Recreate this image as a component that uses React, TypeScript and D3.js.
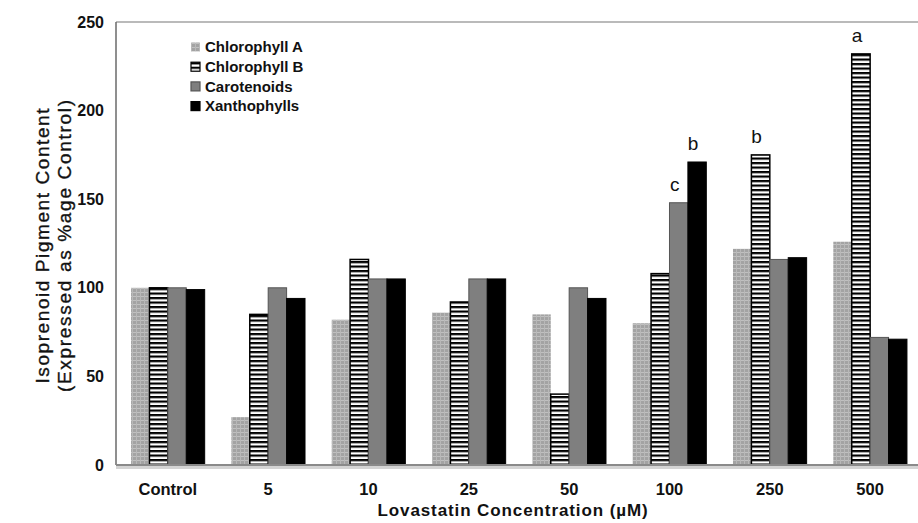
import React from 'react';
import * as d3 from 'd3';

const categories = ['Control', '5', '10', '25', '50', '100', '250', '500'];
const seriesNames = ['Chlorophyll A', 'Chlorophyll B', 'Carotenoids', 'Xanthophylls'];
const chlorophyllA = [100, 27, 82, 86, 85, 80, 122, 126];
const chlorophyllB = [100, 85, 116, 92, 40, 108, 175, 232];
const carotenoids = [100, 100, 105, 105, 100, 148, 116, 72];
const xanthophylls = [99, 94, 105, 105, 94, 171, 117, 71];
const yTicks = [0, 50, 100, 150, 200, 250];

// significance letters: category, series index, letter
const sigCategories = ['100', '100', '250', '500'];
const sigSeries = [2, 3, 1, 1];
const sigLetters = ['c', 'b', 'b', 'a'];

const WIDTH = 918;
const HEIGHT = 523;
const FONT = '"Liberation Sans", Arial, Helvetica, sans-serif';

const allSeries = [chlorophyllA, chlorophyllB, carotenoids, xanthophylls];
const fills = ['url(#patA)', 'url(#patB)', '#7f7f7f', '#000'];
const strokes = ['none', '#000', '#555', '#000'];
const strokeWidths = [0, 1.5, 1, 1];

export default function App() {
  const x = d3.scaleBand<string>()
    .domain(categories)
    .range([117, 921])
    .paddingInner(0.266)
    .paddingOuter(0.14);

  const xs = d3.scaleBand<number>()
    .domain(d3.range(seriesNames.length))
    .range([0, x.bandwidth()]);

  const y = d3.scaleLinear().domain([0, 250]).range([465, 22]);

  const left = 116;
  const bottom = y(0);
  const top = y(250);

  const legendX = 191;
  const legendY = 47;
  const legendStep = 19.7;

  return (
    <svg width={WIDTH} height={HEIGHT} style={{ position: 'absolute', left: 0, top: 0, background: '#fff' }}
      fontFamily={FONT}>
      <defs>
        <pattern id="patA" patternUnits="userSpaceOnUse" width={4} height={4}>
          <rect width={4} height={4} fill="#a3a3a3" />
          <rect x={0} y={0} width={4} height={1} fill="#c0c0c0" />
          <rect x={0} y={0} width={1} height={4} fill="#b8b8b8" />
        </pattern>
        <pattern id="patB" patternUnits="userSpaceOnUse" width={4.5} height={4.5}>
          <rect width={4.5} height={4.5} fill="#fff" />
          <rect x={0} y={0} width={4.5} height={2.2} fill="#000" />
        </pattern>
      </defs>

      {/* plot frame */}
      <line x1={left} x2={WIDTH} y1={top} y2={top} stroke="#777" strokeWidth={1.2} />
      <line x1={left} x2={left} y1={top} y2={bottom} stroke="#6a6a6a" strokeWidth={1.5} />

      {/* bars */}
      {allSeries.map((vals, s) => (
        <g key={seriesNames[s]}>
          {vals.map((v, i) => (
            <rect key={categories[i]}
              x={(x(categories[i]) as number) + (xs(s) as number)}
              y={y(v)}
              width={xs.bandwidth()}
              height={bottom - y(v)}
              fill={fills[s]}
              stroke={strokes[s]}
              strokeWidth={strokeWidths[s]} />
          ))}
        </g>
      ))}

      {/* x axis with shadow */}
      <line x1={left} x2={WIDTH} y1={bottom + 2.5} y2={bottom + 2.5} stroke="#d4d4d4" strokeWidth={3} />
      <line x1={left} x2={WIDTH} y1={bottom} y2={bottom} stroke="#8a8a8a" strokeWidth={2} />

      {/* y tick labels */}
      {yTicks.map(t => (
        <text key={t} x={104} y={y(t)} dy="0.35em" textAnchor="end"
          fontSize={16} fontWeight="bold" fill="#111">{t}</text>
      ))}

      {/* x tick labels */}
      {categories.map(c => (
        <text key={c} x={(x(c) as number) + x.bandwidth() / 2} y={489} dy="0.35em"
          textAnchor="middle" fontSize={16.5} fontWeight="bold" fill="#111">{c}</text>
      ))}

      {/* axis titles */}
      <text x={513} y={510} dy="0.35em" textAnchor="middle" fontSize={17} fontWeight="bold"
        fill="#111" letterSpacing={0.9}>Lovastatin Concentration (µM)</text>
      <g transform="translate(42,246) rotate(-90)">
        <text x={0} y={0} dy="0.35em" textAnchor="middle" fontSize={19} fill="#111"
          stroke="#111" strokeWidth={0.35}
          textLength={275} lengthAdjust="spacing">Isoprenoid Pigment Content</text>
        <text x={0} y={22} dy="0.35em" textAnchor="middle" fontSize={19} fill="#111"
          stroke="#111" strokeWidth={0.35}
          textLength={292} lengthAdjust="spacing">(Expressed as %age Control)</text>
      </g>

      {/* significance letters */}
      {sigLetters.map((l, k) => {
        const i = categories.indexOf(sigCategories[k]);
        const s = sigSeries[k];
        const cx = (x(sigCategories[k]) as number) + (xs(s) as number) + xs.bandwidth() / 2 - 4;
        return (
          <text key={k} x={cx} y={y(allSeries[s][i]) - 12} textAnchor="middle"
            fontSize={19} fill="#111">{l}</text>
        );
      })}

      {/* legend */}
      {seriesNames.map((n, s) => (
        <g key={n} transform={`translate(${legendX},${legendY + s * legendStep})`}>
          <rect x={0} y={-4.5} width={9} height={9} fill={fills[s]}
            stroke={strokes[s]} strokeWidth={strokeWidths[s] ? 1.2 : 0} />
          <text x={14} y={0} dy="0.35em" fontSize={15} fontWeight="bold" fill="#111">{n}</text>
        </g>
      ))}
    </svg>
  );
}
